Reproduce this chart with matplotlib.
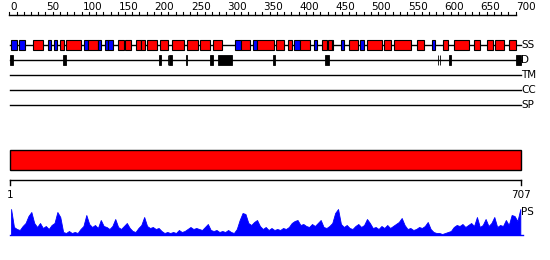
import matplotlib.pyplot as plt
from matplotlib.patches import Rectangle

# Protein length and feature tracks (residue numbers)
length = 707

# secondary structure: (start, end, type) H = helix (red), E = strand (blue)
ss_start = [3, 14, 33, 54, 62, 70, 79, 103, 109, 123, 132, 137, 150, 160, 175, 182,
            190, 208, 225, 246, 264, 281, 312, 320, 337, 343, 369, 385, 394, 402, 421,
            432, 440, 446, 458, 470, 485, 495, 518, 532, 564, 585, 599, 615, 642, 661,
            671, 691]
ss_end = [11, 22, 47, 58, 66, 75, 99, 109, 122, 127, 137, 143, 158, 168, 182, 187,
          204, 220, 241, 261, 278, 294, 320, 333, 343, 366, 380, 391, 402, 416, 426,
          439, 446, 448, 463, 482, 491, 515, 528, 555, 573, 588, 606, 636, 651, 669,
          684, 700]
ss_type = ['E', 'E', 'H', 'E', 'E', 'H', 'H', 'E', 'H', 'E', 'E', 'E', 'H', 'H', 'H', 'H',
           'H', 'H', 'H', 'H', 'H', 'H', 'E', 'H', 'E', 'H', 'H', 'H', 'E', 'H', 'E',
           'H', 'H', 'E', 'E', 'H', 'E', 'H', 'H', 'H', 'H', 'E', 'H', 'H', 'H', 'H',
           'H', 'H']

# domain boundary track (D)
d_start = [1, 74, 207, 219, 221, 244, 278, 289, 364, 436, 592, 595, 608, 700]
d_end = [5, 78, 210, 220, 225, 245, 281, 308, 368, 442, 593, 596, 611, 707]

# PS profile, one value per 4 residues
ps = [26, 8, 6, 5, 9, 12, 19, 23, 12, 8, 12, 7, 9, 6, 10, 12, 23, 18, 3, 2,
      4, 2, 3, 2, 6, 9, 20, 11, 8, 10, 7, 15, 9, 8, 6, 9, 16, 8, 6, 9,
      12, 7, 4, 3, 7, 10, 18, 9, 7, 8, 6, 7, 4, 2, 3, 2, 3, 2, 5, 3,
      4, 6, 8, 6, 7, 6, 5, 8, 11, 5, 4, 5, 3, 4, 3, 5, 3, 2, 6, 15,
      22, 21, 12, 10, 13, 15, 9, 6, 8, 5, 7, 5, 6, 5, 7, 6, 8, 12, 14, 15,
      10, 11, 9, 8, 11, 9, 12, 15, 8, 7, 9, 12, 22, 26, 11, 8, 10, 7, 6, 9,
      11, 8, 10, 16, 12, 7, 8, 6, 9, 7, 10, 7, 9, 11, 13, 17, 10, 6, 7, 5,
      6, 8, 7, 9, 13, 6, 3, 2, 2, 1, 2, 3, 4, 8, 10, 9, 11, 8, 10, 12,
      9, 18, 8, 10, 16, 9, 12, 18, 8, 10, 9, 15, 10, 20, 19, 14, 26]
ps_pos = [4 * i + 2.5 for i in range(len(ps))]

ruler_ticks = list(range(0, 701, 10))
ruler_labels = list(range(0, 701, 50))
track_names = ['SS', 'D', 'TM', 'CC', 'SP']

fig = plt.figure(figsize=(5.5, 2.6), dpi=100)
ax = fig.add_axes([0, 0, 1, 1])
# x in residues, y in pixel rows from the top
k = (520.7 - 10) / (length - 1)
ax.set_xlim(1 - 10 / k, 1 + 540 / k)
ax.set_ylim(260, 0)
ax.axis('off')

# top ruler
ax.plot([0, 700], [15, 15], color='black', lw=1)
for t in ruler_ticks:
    ax.plot([t, t], [15, 11.5], color='black', lw=0.8)
for t in ruler_labels:
    ax.text(t + 1, 7.5, str(t), fontsize=7.5, ha='left', va='center')

# SS track
ax.plot([1, length], [45, 45], color='black', lw=1, zorder=1)
for s, e, t in zip(ss_start, ss_end, ss_type):
    c = 'red' if t == 'H' else 'blue'
    ax.add_patch(Rectangle((s, 40), e - s, 10, facecolor=c, edgecolor='black', lw=0.8, zorder=2))

# D track
ax.plot([1, length], [60, 60], color='black', lw=1, zorder=1)
for s, e in zip(d_start, d_end):
    ax.add_patch(Rectangle((s, 55), e - s, 10, facecolor='black', edgecolor='black', lw=0.6, zorder=2))

# empty tracks
for y in [75, 90, 105]:
    ax.plot([1, length], [y, y], color='black', lw=1)

for name, y in zip(track_names, [45, 60, 75, 90, 105]):
    ax.text(length + 1, y, name, fontsize=7.5, ha='left', va='center')

# full length bar
ax.add_patch(Rectangle((1, 150), length - 1, 20, facecolor='red', edgecolor='black', lw=1))

# bottom ruler
ax.plot([1, length], [180, 180], color='black', lw=1)
ax.plot([1, 1], [180, 184.5], color='black', lw=1)
ax.plot([length, length], [180, 184.5], color='black', lw=1)
ax.text(1, 195, '1', fontsize=7.5, ha='center', va='center')
ax.text(length, 195, str(length), fontsize=7.5, ha='center', va='center')

# PS profile, baseline at row 235, full scale 27 rows
ps_y = [235 - v for v in ps]
ax.fill_between(ps_pos, ps_y, 235, color='blue', lw=0.6)
ax.plot([1, length + 3], [235, 235], color='blue', lw=1)
ax.text(length + 1, 212, 'PS', fontsize=7.5, ha='left', va='center')

fig.savefig('out.png', dpi=100)
